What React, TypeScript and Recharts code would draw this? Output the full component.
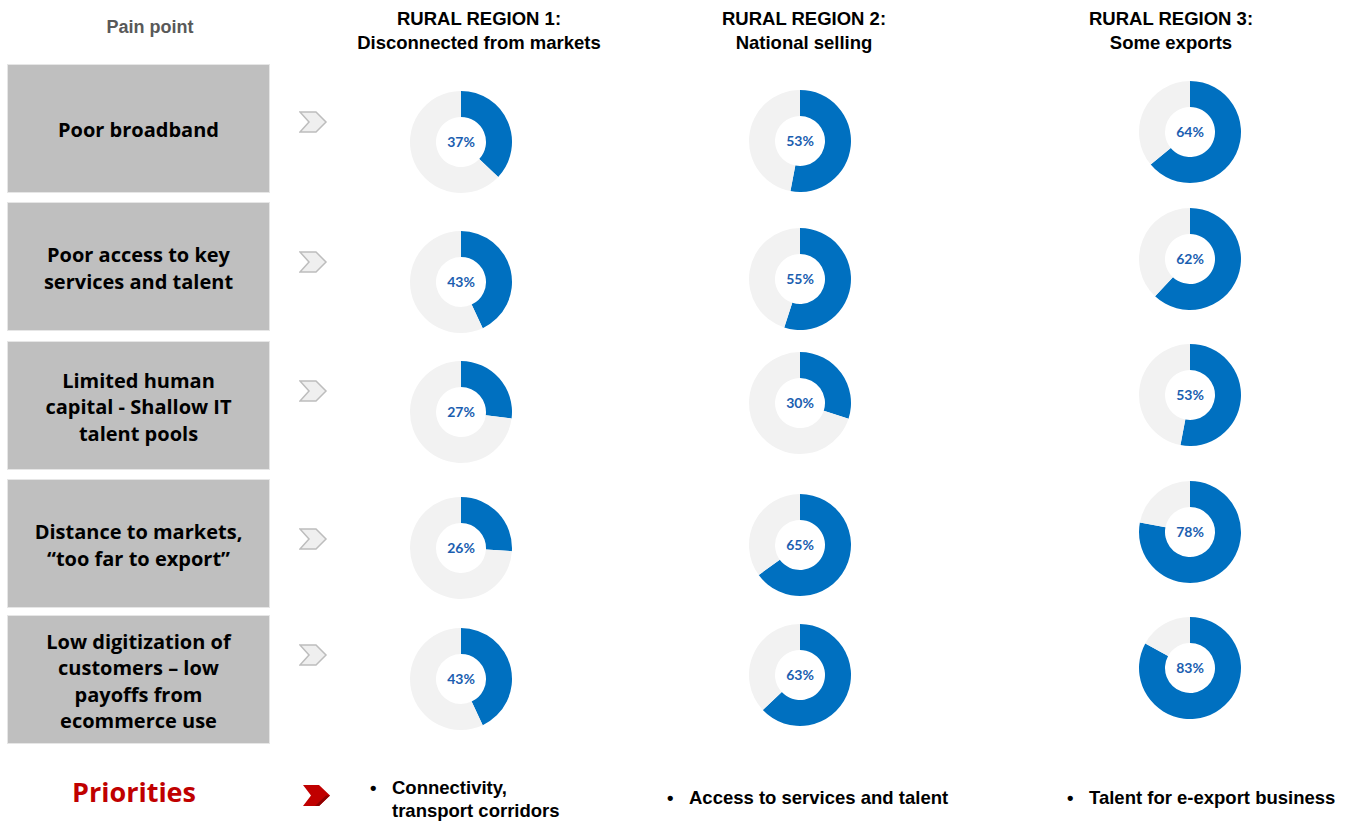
import React from 'react';
import { PieChart, Pie, Cell, Label } from 'recharts';

// pain points, one entry per row (lines as drawn)
const painPoints = [
  ['Poor broadband'],
  ['Poor access to key', 'services and talent'],
  ['Limited human', 'capital - Shallow IT', 'talent pools'],
  ['Distance to markets,', '“too far to export”'],
  ['Low digitization of', 'customers – low', 'payoffs from', 'ecommerce use'],
];

const regionTitles = ['RURAL REGION 1:', 'RURAL REGION 2:', 'RURAL REGION 3:'];
const regionSubtitles = ['Disconnected from markets', 'National selling', 'Some exports'];

// share of firms citing each pain point (%)
const region1Shares = [37, 43, 27, 26, 43];
const region2Shares = [53, 55, 30, 65, 63];
const region3Shares = [64, 62, 53, 78, 83];

const priorities = [
  ['Connectivity,', 'transport corridors'],
  ['Access to services and talent'],
  ['Talent for e-export business'],
];

// layout
const boxTops = [65, 203, 342, 480, 616];
const chevronY = [122, 262, 391, 539, 655];
const colX = [461, 800, 1190];
const donutY = [
  [142, 282, 412, 548, 679],
  [141, 279, 403, 545, 675],
  [132, 259, 395, 532, 668],
];
const headerX = [479, 804, 1171];
const priorityX = [370, 667, 1067];

const BLUE = '#0070C0';
const GREY = '#F2F2F2';

const Donut: React.FC<{ value: number; x: number; y: number }> = ({ value, x, y }) => {
  const data = [
    { name: 'share', v: value },
    { name: 'rest', v: 100 - value },
  ];
  return (
    <div style={{ position: 'absolute', left: x - 55, top: y - 55 }}>
      <PieChart width={110} height={110} margin={{ top: 0, right: 0, bottom: 0, left: 0 }}>
        <Pie
          data={data}
          dataKey="v"
          cx="50%"
          cy="50%"
          innerRadius={25}
          outerRadius={51}
          startAngle={90}
          endAngle={-270}
          stroke="none"
          isAnimationActive={false}
        >
          <Cell fill={BLUE} />
          <Cell fill={GREY} />
          <Label
            value={`${value}%`}
            position="center"
            fill="#1B5EB0"
            style={{ fontSize: 14, fontWeight: 700, fontFamily: 'Lato' }}
          />
        </Pie>
      </PieChart>
    </div>
  );
};

const GreyChevron: React.FC<{ y: number }> = ({ y }) => (
  <svg style={{ position: 'absolute', left: 299, top: y - 11 }} width={30} height={23}>
    <polygon
      points="1,1 17,1 27,11 17,21 1,21 10,11"
      fill="#EFEFEF"
      stroke="#BDBDBD"
      strokeWidth={1.5}
    />
  </svg>
);

const App: React.FC = () => {
  const shares = [region1Shares, region2Shares, region3Shares];
  const boxFont = "'Open Sans', 'DejaVu Sans', sans-serif";
  const armFont = "'Liberation Sans', Arial, sans-serif";
  return (
    <div
      style={{
        position: 'absolute',
        left: 0,
        top: 0,
        width: 1352,
        height: 821,
        background: '#fff',
        overflow: 'hidden',
        fontFamily: armFont,
      }}
    >
      <div
        style={{
          position: 'absolute',
          left: 50,
          width: 200,
          top: 17,
          textAlign: 'center',
          fontSize: 18,
          fontWeight: 700,
          color: '#595959',
        }}
      >
        Pain point
      </div>

      {regionTitles.map((t, i) => (
        <div
          key={t}
          style={{
            position: 'absolute',
            left: headerX[i] - 150,
            width: 300,
            top: 7,
            textAlign: 'center',
            fontSize: 18.5,
            fontWeight: 700,
            lineHeight: '24px',
            color: '#000',
          }}
        >
          <div>{t}</div>
          <div>{regionSubtitles[i]}</div>
        </div>
      ))}

      {painPoints.map((lines, r) => (
        <div
          key={r}
          style={{
            position: 'absolute',
            left: 8,
            top: boxTops[r],
            width: 261,
            height: 127,
            boxSizing: 'border-box',
            paddingTop: 4,
            background: '#BFBFBF',
            outline: '1px solid #E6E6E6',
            display: 'flex',
            flexDirection: 'column',
            justifyContent: 'center',
            alignItems: 'center',
            fontFamily: boxFont,
            fontSize: 20,
            fontWeight: 700,
            lineHeight: '26.5px',
            color: '#000',
            textAlign: 'center',
          }}
        >
          {lines.map((l) => (
            <div key={l} style={{ whiteSpace: 'nowrap' }}>{l}</div>
          ))}
        </div>
      ))}

      {chevronY.map((y, r) => (
        <GreyChevron key={r} y={y} />
      ))}

      {shares.map((col, c) =>
        col.map((v, r) => <Donut key={`${c}-${r}`} value={v} x={colX[c]} y={donutY[c][r]} />)
      )}

      <div
        style={{
          position: 'absolute',
          left: 34,
          width: 200,
          top: 773,
          textAlign: 'center',
          fontFamily: boxFont,
          fontSize: 27,
          fontWeight: 700,
          color: '#C00000',
        }}
      >
        Priorities
      </div>
      <svg style={{ position: 'absolute', left: 303, top: 785 }} width={30} height={23}>
        <polygon points="0,0 16,0 27,10.5 16,21 0,21 8,10.5" fill="#C00000" />
        <polygon points="16,21 27,10.5 23,10.5 12,21" fill="#8E0000" />
      </svg>

      {priorities.map((lines, i) => (
        <div
          key={i}
          style={{
            position: 'absolute',
            left: priorityX[i],
            top: lines.length > 1 ? 776 : 786,
            fontSize: 18.5,
            fontWeight: 700,
            lineHeight: '23px',
            color: '#000',
            display: 'flex',
          }}
        >
          <div style={{ width: 22 }}>•</div>
          <div>
            {lines.map((l) => (
              <div key={l} style={{ whiteSpace: 'nowrap' }}>{l}</div>
            ))}
          </div>
        </div>
      ))}
    </div>
  );
};

export default App;
